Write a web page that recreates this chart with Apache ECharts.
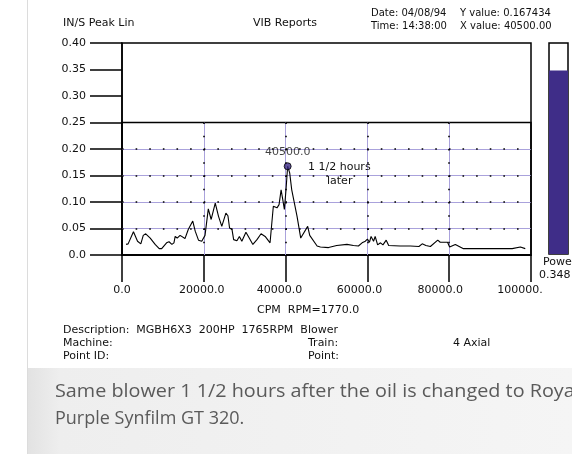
<!DOCTYPE html>
<html>
<head>
<meta charset="utf-8">
<script src="https://cdn.jsdelivr.net/npm/echarts@6/dist/echarts.min.js"></script>
<style>
html,body{margin:0;padding:0;background:#fff;}
#c{width:572px;height:454px;}
</style>
</head>
<body>
<div id="c"></div>
<script>
// ---- data ----
var cpm = [1000,1500,2800,3800,4600,5200,5800,6900,8100,9100,9700,10900,11500,12200,12700,13000,13500,14200,14600,15400,16200,17300,17900,18700,19500,20300,21100,21800,22800,23600,24400,25400,25900,26300,26900,27300,28100,28700,29300,30300,30900,32000,33000,34000,35000,36200,36600,37000,37900,38400,38900,39300,39700,40100,40500,41000,41500,42800,43700,45400,45900,47700,48500,50500,52500,55000,56600,57800,58700,59500,60000,60500,60900,61500,61900,62500,63200,63800,64600,65200,68000,70500,72600,73400,74300,75400,77200,77800,79600,80100,81500,83500,87600,91700,95400,97400,98600];
var amp = [0.020,0.021,0.044,0.026,0.021,0.037,0.040,0.032,0.020,0.012,0.012,0.023,0.025,0.020,0.023,0.035,0.032,0.037,0.040,0.031,0.048,0.064,0.045,0.028,0.026,0.037,0.087,0.067,0.098,0.073,0.054,0.079,0.074,0.051,0.048,0.029,0.027,0.035,0.026,0.043,0.035,0.020,0.029,0.040,0.035,0.023,0.023,0.092,0.089,0.095,0.123,0.105,0.086,0.123,0.167434,0.155,0.123,0.073,0.032,0.054,0.037,0.017,0.015,0.014,0.018,0.020,0.018,0.017,0.023,0.026,0.030,0.024,0.035,0.026,0.035,0.019,0.023,0.019,0.028,0.018,0.017,0.017,0.016,0.021,0.018,0.016,0.028,0.024,0.024,0.015,0.020,0.012,0.012,0.012,0.012,0.015,0.012];
var peakCpm = 40500.0;
var peakAmp = 0.167434;
var powerValue = 0.348;
var xTickLabels = ['0.0','20000.0','40000.0','60000.0','80000.0','100000.'];
var yTickLabels = ['0.0','0.05','0.10','0.15','0.20','0.25','0.30','0.35','0.40'];

var FONT = 'DejaVu Sans';
var lineData = cpm.map(function(c,i){return [c, amp[i]];});

var chart = echarts.init(document.getElementById('c'), null, {renderer:'canvas'});

function txt(x, y, s, size, extra){
  var st = {text:s, x:x, y:y, fill:'#111', font: size+'px "'+FONT+'"', textVerticalAlign:'middle'};
  if(extra){ for(var k in extra) st[k]=extra[k]; }
  return {type:'text', z:50, style: st, silent:true};
}
function richStyle(padRight){
  return {fontFamily:FONT, fontSize:11, color:'#111', padding:[0,padRight,0,0]};
}

var option = {
  animation:false,
  backgroundColor:'#ffffff',
  grid:[
    {left:122, top:43, width:409, height:212, show:true, borderColor:'#000', borderWidth:1.5, backgroundColor:'transparent', z:5},
    {left:122, top:122.5, width:409, height:132.5, show:true, borderColor:'#000', borderWidth:1.5, backgroundColor:'transparent', z:5},
    {left:122, top:122.5, width:409, height:132.5, show:false},
    {left:549, top:43, width:19, height:211, show:true, borderColor:'#000', borderWidth:1.5, backgroundColor:'#fff', z:6}
  ],
  xAxis:[
    {type:'value', gridIndex:0, min:0, max:100000, interval:20000, z:6,
     axisLine:{show:true, onZero:false, lineStyle:{color:'#000', width:1.5}},
     axisTick:{show:true, length:27, lineStyle:{color:'#000', width:1.5}},
     axisLabel:{margin:30, fontFamily:FONT, fontSize:11, color:'#111',
       formatter:function(v){var i=Math.round(v/20000);return '{p'+i+'|'+xTickLabels[i]+'}';},
       rich:{p0:richStyle(0), p1:richStyle(4), p2:richStyle(12), p3:richStyle(16), p4:richStyle(18), p5:richStyle(22)}},
     splitLine:{show:false}},
    {type:'value', gridIndex:1, min:0, max:100000, interval:20000, z:7,
     axisLine:{show:false}, axisTick:{show:false}, axisLabel:{show:false},
     splitLine:{show:true, showMinLine:false, showMaxLine:false, lineStyle:{color:'#aaa2dc', width:1}}},
    {type:'value', gridIndex:2, min:0, max:100000, interval:20000, z:8,
     axisLine:{show:false}, axisTick:{show:false}, axisLabel:{show:false},
     splitLine:{show:true, showMinLine:false, showMaxLine:false, lineStyle:{color:'#000', width:1.6, type:[1.6,11.65]}}},
    {type:'category', gridIndex:3, data:['Power'], show:false}
  ],
  yAxis:[
    {type:'value', gridIndex:0, min:0, max:0.4, interval:0.05, z:6,
     axisLine:{show:true, lineStyle:{color:'#000', width:1.5}},
     axisTick:{show:true, length:32, lineStyle:{color:'#000', width:1.5}},
     axisLabel:{margin:36, fontFamily:FONT, fontSize:11, color:'#111',
       formatter:function(v){return yTickLabels[Math.round(v/0.05)];}},
     splitLine:{show:false}},
    {type:'value', gridIndex:1, min:0, max:0.25, interval:0.05, z:7,
     axisLine:{show:false}, axisTick:{show:false}, axisLabel:{show:false},
     splitLine:{show:true, showMinLine:false, showMaxLine:false, lineStyle:{color:'#aaa2dc', width:1}}},
    {type:'value', gridIndex:2, min:0, max:0.25, interval:0.05, z:8,
     axisLine:{show:false}, axisTick:{show:false}, axisLabel:{show:false},
     splitLine:{show:true, showMinLine:false, showMaxLine:false, lineStyle:{color:'#000', width:1.6, type:[1.6,12.02]}}},
    {type:'value', gridIndex:3, min:0, max:0.4, show:false}
  ],
  series:[
    {type:'line', xAxisIndex:0, yAxisIndex:0, data:lineData, showSymbol:false, z:10,
     lineStyle:{color:'#000', width:1.1}},
    {type:'scatter', xAxisIndex:0, yAxisIndex:0, data:[[peakCpm, peakAmp]], z:12, symbolSize:7,
     itemStyle:{color:'#3b2b85', borderColor:'#000', borderWidth:1},
     label:{show:true, position:'top', distance:5, fontFamily:FONT, fontSize:11, color:'#111',
       formatter:function(p){return p.value[0].toFixed(1);}}},
    {type:'bar', xAxisIndex:3, yAxisIndex:3, data:[powerValue], barWidth:'100%', z:7,
     itemStyle:{color:'#3f2d88'}}
  ],
  graphic:[
    {type:'rect', z:-1, silent:true, shape:{x:27, y:368, width:545, height:86},
     style:{fill:new echarts.graphic.LinearGradient(0,0,1,0,[{offset:0,color:'#e2e2e2'},{offset:0.06,color:'#eeeeee'},{offset:1,color:'#f5f5f5'}])}},
    {type:'line', z:-1, silent:true, shape:{x1:27.5, y1:0, x2:27.5, y2:454}, style:{stroke:'#dcdcdc', lineWidth:1}},
    txt(63, 23, 'IN/S Peak Lin', 11),
    txt(253, 23, 'VIB Reports', 11),
    txt(371, 13, 'Date: 04/08/94', 10),
    txt(371, 26, 'Time: 14:38:00', 10),
    txt(460, 13, 'Y value: 0.167434', 10),
    txt(460, 26, 'X value: 40500.00', 10),
    txt(308, 167, '1 1/2 hours', 11),
    txt(327, 181, 'later', 11),
    txt(543, 262, 'Power', 11),
    txt(539, 275, '0.348', 11),
    txt(257, 310, 'CPM  RPM=1770.0', 11),
    txt(63, 330, 'Description:  MGBH6X3  200HP  1765RPM  Blower', 11),
    txt(63, 343, 'Machine:', 11),
    txt(63, 356, 'Point ID:', 11),
    txt(308, 343, 'Train:', 11),
    txt(308, 356, 'Point:', 11),
    txt(453, 343, '4 Axial', 11),
    {type:'text', z:50, silent:true, x:55, y:392, scaleX:1.1, scaleY:1,
     style:{text:'Same blower 1 1/2 hours after the oil is changed to Royal', x:0, y:0, fill:'#5a5a5a', font:'18px "Open Sans"', textVerticalAlign:'middle'}},
    {type:'text', z:50, silent:true, x:55, y:419,
     style:{text:'Purple Synfilm GT 320.', x:0, y:0, fill:'#5a5a5a', font:'18px "Open Sans"', textVerticalAlign:'middle'}}
  ]
};
chart.setOption(option);
</script>
</body>
</html>
